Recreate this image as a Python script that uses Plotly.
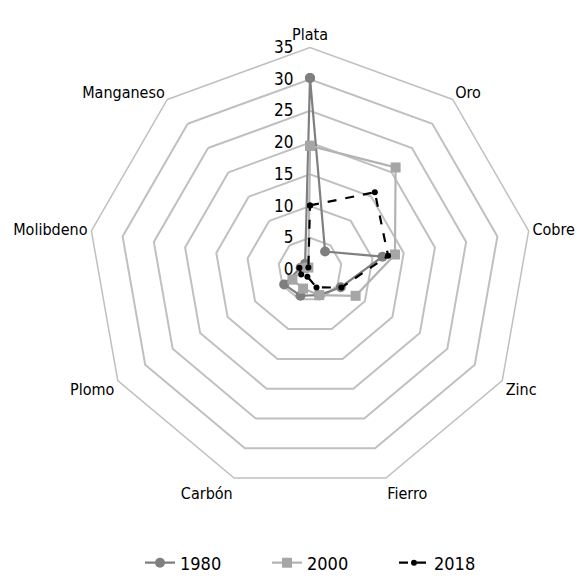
import plotly.graph_objects as go

categories = ["Plata", "Oro", "Cobre", "Zinc", "Fierro", "Carbón", "Plomo", "Molibdeno", "Manganeso"]
v1980 = [30.2, 3.7, 11.6, 5.6, 4.3, 4.4, 4.7, 1.5, 1.2]
v2000 = [19.5, 21.0, 13.6, 8.3, 4.3, 3.2, 3.2, 1.0, 0.4]
v2018 = [10.1, 15.9, 12.5, 5.7, 3.0, 1.2, 1.6, 1.7, 0.4]
years = ["1980", "2000", "2018"]

FONT = "DejaVu Sans Condensed"

# page body has an 8px margin, so the figure is drawn 8px smaller than the window
W, H = 575, 577

def closed(vals):
    return vals + vals[:1]

theta = closed(categories)

styles = {
    "1980": dict(line=dict(color="#7f7f7f", width=2.2),
                 marker=dict(symbol="circle", size=10, color="#7f7f7f")),
    "2000": dict(line=dict(color="#b3b3b3", width=2.2),
                 marker=dict(symbol="square", size=10, color="#a6a6a6")),
    "2018": dict(line=dict(color="#000000", width=2.2, dash="dash"),
                 marker=dict(symbol="circle", size=6, color="#000000")),
}

fig = go.Figure()
for name, vals in zip(years, [v1980, v2000, v2018]):
    fig.add_trace(go.Scatterpolar(
        r=closed(vals), theta=theta, mode="lines+markers", name=name,
        **styles[name],
    ))

fig.update_layout(
    width=W, height=H,
    margin=dict(l=0, r=0, t=0, b=0, autoexpand=False),
    paper_bgcolor="white",
    font=dict(family=FONT, size=16, color="#000000"),
    polar=dict(
        domain=dict(x=[80 / W, 524 / W], y=[93.5 / H, 537.5 / H]),
        bgcolor="white",
        gridshape="linear",
        angularaxis=dict(
            direction="clockwise", rotation=90,
            showgrid=False, linecolor="#c0c0c0", linewidth=1.5,
            ticks="", tickfont=dict(size=16, family=FONT),
        ),
        radialaxis=dict(
            range=[0, 35], dtick=5, angle=90, side="counterclockwise",
            showline=False, gridcolor="#c0c0c0", gridwidth=1.5,
            ticks="outside", ticklen=10, tickcolor="rgba(0,0,0,0)",
            tickfont=dict(size=17, family=FONT), tickangle=90,
        ),
    ),
    legend=dict(orientation="h", x=132 / W, xanchor="left", y=22 / H, yanchor="middle",
                font=dict(size=18, family=FONT), entrywidth=82, entrywidthmode="pixels"),
)

fig.write_html("out.html")
